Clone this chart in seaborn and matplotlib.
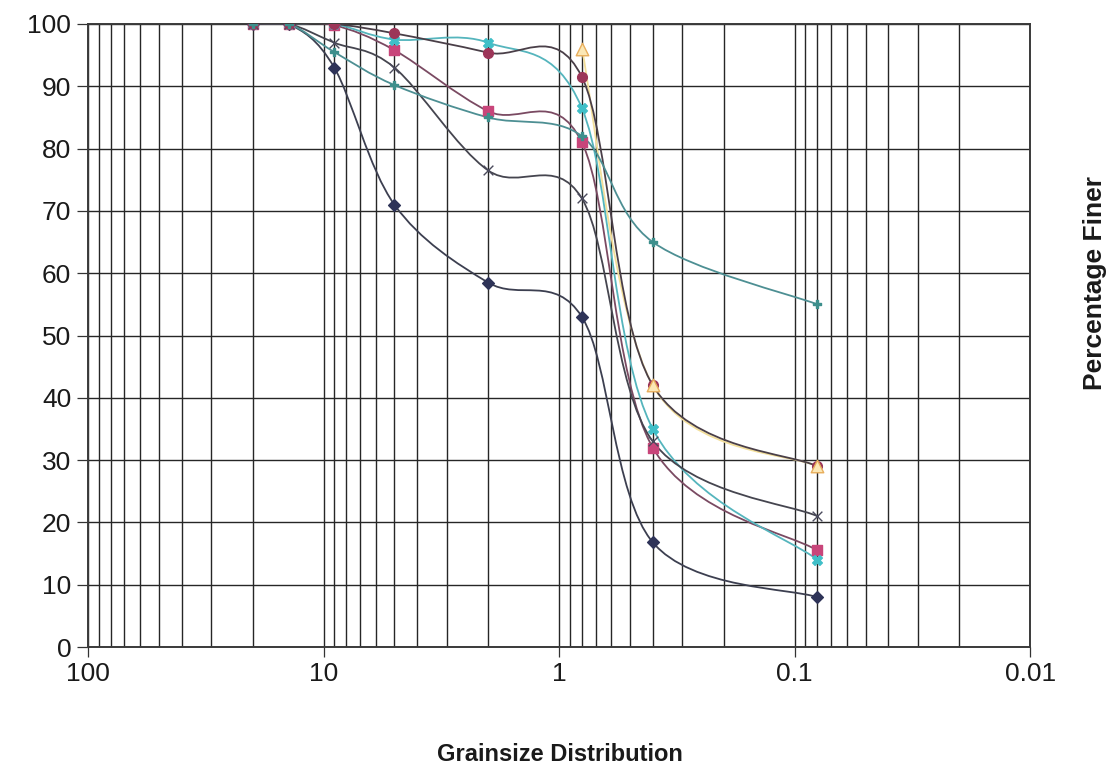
import numpy as np
import pandas as pd
import matplotlib
matplotlib.use("Agg")
import matplotlib.pyplot as plt
from matplotlib.path import Path
from matplotlib.patches import PathPatch
from matplotlib.ticker import FixedLocator, NullFormatter, FixedFormatter
import seaborn as sns

# ---------------- data ----------------
sizes = [20, 14, 9, 5, 2, 0.8, 0.4, 0.08]          # grain size (mm)
s_diamond = [100, 100, 93, 71, 58.5, 53, 16.8, 8]
s_square = [100, 100, 99.8, 95.8, 86, 81, 32, 15.5]
s_triangle = [np.nan, np.nan, np.nan, np.nan, np.nan, 96, 42, 29]
s_xcyan = [100, 100, 100, 97.5, 97, 86.5, 35, 14]
s_star = [100, 100, 97, 93, 76.5, 72, 33, 21]
s_circle = [100, 100, 100, 98.5, 95.4, 91.5, 42, 29]
s_plus = [100, 100, 95.5, 90.2, 85, 82, 65, 55]

x_ticks = [100, 10, 1, 0.1, 0.01]
x_ticklabels = ["100", "10", "1", "0.1", "0.01"]
y_ticks = [0, 10, 20, 30, 40, 50, 60, 70, 80, 90, 100]

# name, values, marker, marker face, marker edge, line colour, marker size
series = [
    ("S1", s_diamond, "D", "#2e3358", "#2e3358", "#3c3f50", 6),
    ("S2", s_square, "s", "#c8457a", "#c8457a", "#7a4a62", 7),
    ("S4", s_xcyan, "X", "#3fbfc8", "#3fbfc8", "#55b5bd", 7),
    ("S5", s_star, "x", "#4a4a5c", "#4a4a5c", "#45454f", 7),
    ("S6", s_circle, "o", "#9c3558", "#9c3558", "#4a3f48", 7),
    ("S7", s_plus, "P", "#3d8f8c", "#3d8f8c", "#4d8f93", 6),
    ("S3", s_triangle, "^", "#fbe7b5", "#e8ae5c", "#f3df9a", 9),
]

rows = []
for name, vals, *_ in series:
    for s, v in zip(sizes, vals):
        rows.append({"size": s, "pct": v, "series": name})
df = pd.DataFrame(rows).dropna()

# ---------------- figure ----------------
sns.set_theme(style="white")
plt.rcParams["font.family"] = ["Liberation Sans", "DejaVu Sans"]

fig = plt.figure(figsize=(11.19, 7.69), dpi=100)
fig.patch.set_facecolor("white")
ax = fig.add_axes([0.0786, 0.1586, 0.842, 0.8102])
ax.set_facecolor("white")
ax.set_xscale("log")


def smooth_path(xs, ys):
    pts = np.column_stack([np.log10(xs), ys]).astype(float)
    pts = pts[~np.isnan(pts[:, 1])]
    n = len(pts)
    verts = [pts[0]]
    codes = [Path.MOVETO]
    for i in range(n - 1):
        p0 = pts[i - 1] if i > 0 else pts[i]
        p1, p2 = pts[i], pts[i + 1]
        p3 = pts[i + 2] if i + 2 < n else pts[i + 1]
        c1 = p1 + (p2 - p0) / 6.0
        c2 = p2 - (p3 - p1) / 6.0
        verts += [c1, c2, p2]
        codes += [Path.CURVE4] * 3
    verts = np.array(verts)
    verts[:, 0] = 10 ** verts[:, 0]
    return Path(verts, codes)


# yellow line drawn first so the darker curves sit on top of it
line_order = [series[-1]] + series[:-1]
for name, vals, mk, mface, medge, lcol, ms in line_order:
    patch = PathPatch(smooth_path(sizes, vals), facecolor="none",
                      edgecolor=lcol, lw=1.3, zorder=3)
    ax.add_patch(patch)

for name, vals, mk, mface, medge, lcol, ms in series:
    sub = df[df["series"] == name]
    sns.scatterplot(data=sub, x="size", y="pct", ax=ax, marker=mk,
                    color=mface, s=ms ** 2, edgecolor=medge,
                    linewidth=1.0, zorder=4, legend=False)

ax.set_xlim(100, 0.01)
ax.set_ylim(0, 100)

# ticks and grid
ax.xaxis.set_major_locator(FixedLocator(x_ticks))
ax.xaxis.set_major_formatter(FixedFormatter(x_ticklabels))
minors = [m * 10.0 ** e for e in range(-2, 2) for m in range(2, 10)]
ax.xaxis.set_minor_locator(FixedLocator(minors))
ax.xaxis.set_minor_formatter(NullFormatter())
ax.yaxis.set_major_locator(FixedLocator(y_ticks))
ax.yaxis.set_minor_locator(FixedLocator([v + 5 for v in y_ticks[:-1]]))

ax.grid(which="both", axis="x", color="#262626", lw=1.0)
ax.grid(which="major", axis="y", color="#262626", lw=1.0)
ax.set_axisbelow(True)

ax.tick_params(axis="both", which="both", direction="out", color="#333333",
               width=0.9, labelsize=19, labelcolor="#1a1a1a")
ax.tick_params(axis="y", which="major", length=8, pad=4)
ax.tick_params(axis="y", which="minor", length=8)
ax.tick_params(axis="x", which="both", length=7, pad=4)
ax.tick_params(left=True, bottom=True)

for sp in ax.spines.values():
    sp.set_color("#3a3a3a")
    sp.set_linewidth(1.4)

ax.set_xlabel("")
ax.set_ylabel("")
fig.text(0.5, 0.011, "Grainsize Distribution", ha="center", va="baseline",
         fontsize=17, fontweight="bold", color="#1a1a1a")
fig.text(0.9785, 0.632, "Percentage Finer", ha="center", va="center",
         rotation=90, fontsize=19, fontweight="bold", color="#1a1a1a")

fig.savefig("out.png", dpi=100, facecolor="white")
